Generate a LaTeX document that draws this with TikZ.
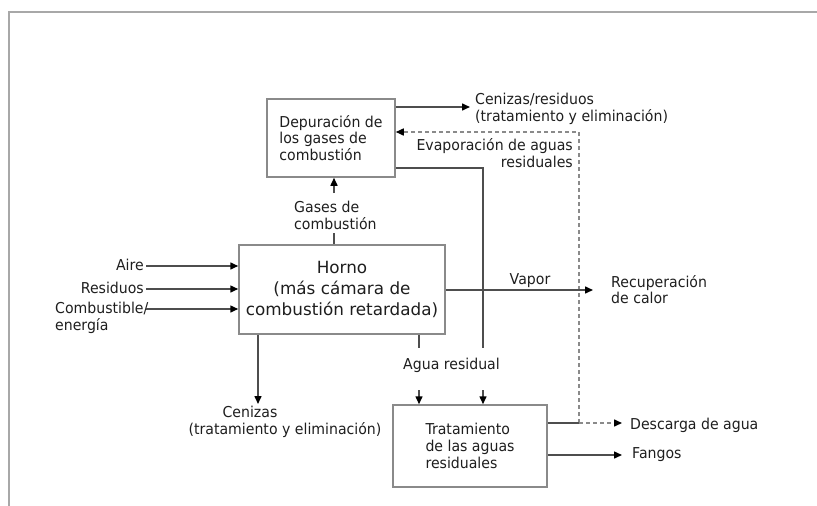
\documentclass[tikz,border=0pt]{standalone}
\usepackage{fontspec}
\setmainfont{DejaVu Sans}[FakeStretch=0.94]
\newfontfamily\hornofont{DejaVu Sans}
\usetikzlibrary{arrows.meta}
\definecolor{lnc}{HTML}{4E4E4E}
\definecolor{bxc}{HTML}{8A8A8A}
\definecolor{txc}{HTML}{1E1E1E}
\definecolor{frc}{HTML}{A8A8A8}
\begin{document}
\begin{tikzpicture}[x=1pt,y=-1pt,
  box/.style={draw=bxc,line width=1.5pt,inner sep=0pt,fill=white,text=txc,font=\fontsize{15}{16.7}\selectfont},
  lbl/.style={inner sep=0pt,text=txc,font=\fontsize{15}{16.7}\selectfont},
  tip/.tip={Triangle[length=8pt,width=7pt,color=black]},
  arr/.style={draw=lnc,line width=1.5pt,-tip},
  lnx/.style={draw=lnc,line width=1.5pt},
  dsh/.style={draw=bxc,line width=1.5pt,dash pattern=on 4pt off 3pt}]
\useasboundingbox (0,0) rectangle (817,506);
\draw[frc,line width=2pt] (9,506) -- (9,12) -- (817,12);

% boxes
\node[box,minimum width=128,minimum height=78,align=left] (dep) at (331,138)
  {Depuración de\\los gases de\\combustión};
\node[box,minimum width=206,minimum height=89,align=center,
  font=\hornofont\fontsize{16.8}{21}\selectfont] (horno) at (342,289.5)
  {Horno\\(más cámara de\\combustión retardada)};
\node[box,minimum width=154,minimum height=82,align=left] (trat) at (470,446)
  {Tratamiento\\de las aguas\\residuales};

% coordinates
\coordinate (cA) at (470,107);
\coordinate (dj) at (579,423);
\coordinate (dt) at (579,132);
\coordinate (r1) at (483,168);
\coordinate (r2) at (483,348);
\coordinate (r3) at (483,390);
\coordinate (g1) at (334,233);
\coordinate (g2) at (334,193);
\coordinate (a1) at (146,266);
\coordinate (a2) at (146,289);
\coordinate (a3) at (146,309);
\coordinate (v1) at (593,290);
\coordinate (w1) at (419,348);
\coordinate (w2) at (419,390);
\coordinate (z1) at (258,404);
\coordinate (d1) at (622,423);
\coordinate (f1) at (622,455);

% labels
\node[lbl,anchor=west,align=left] (cenres) at (475,109)
  {Cenizas/residuos\\(tratamiento y eliminación)};
\node[lbl,anchor=east,align=right] (evap) at (573,153)
  {Evaporación de aguas\\residuales};
\node[lbl,anchor=west,align=left] (gases) at (294,215.6)
  {Gases de\\combustión};
\node[lbl,anchor=east] (aire) at (144,265) {Aire};
\node[lbl,anchor=east] (resid) at (144,288) {Residuos};
\node[lbl,anchor=west,align=left] (comb) at (55,318) {Combustible/\\energía};
\node[lbl] (vapor) at (530,281) {Vapor};
\node[lbl,anchor=west,align=left] (recup) at (611,289.6) {Recuperación\\de calor};
\node[lbl] (agua) at (451.5,365) {Agua residual};
\node[lbl] (cz1) at (250,412) {Cenizas};
\node[lbl] (cz2) at (285,430) {(tratamiento y eliminación)};
\node[lbl,anchor=west] (desc) at (630,425) {Descarga de agua};
\node[lbl,anchor=west] (fang) at (632,455) {Fangos};

% connectors
\draw[arr] (dep.east |- cA) -- (cA);
\draw[dsh,-tip] (dj) -- (dt) -- (dep.east |- dt);
\draw[lnx] (dep.east |- r1) -- (r1) -- (r2);
\draw[arr] (r3) -- (trat.north -| r3);
\draw[lnx] (horno.north -| g1) -- (g1);
\draw[arr] (g2) -- (dep.south -| g2);
\draw[arr] (a1) -- (horno.west |- a1);
\draw[arr] (a2) -- (horno.west |- a2);
\draw[arr] (a3) -- (horno.west |- a3);
\draw[arr] (horno.east |- v1) -- (v1);
\draw[lnx] (horno.south -| w1) -- (w1);
\draw[arr] (w2) -- (trat.north -| w2);
\draw[arr] (horno.south -| z1) -- (z1);
\draw[lnx] (trat.east |- dj) -- (dj);
\draw[dsh,-tip] (dj) -- (d1);
\draw[arr] (trat.east |- f1) -- (f1);
\end{tikzpicture}
\end{document}
